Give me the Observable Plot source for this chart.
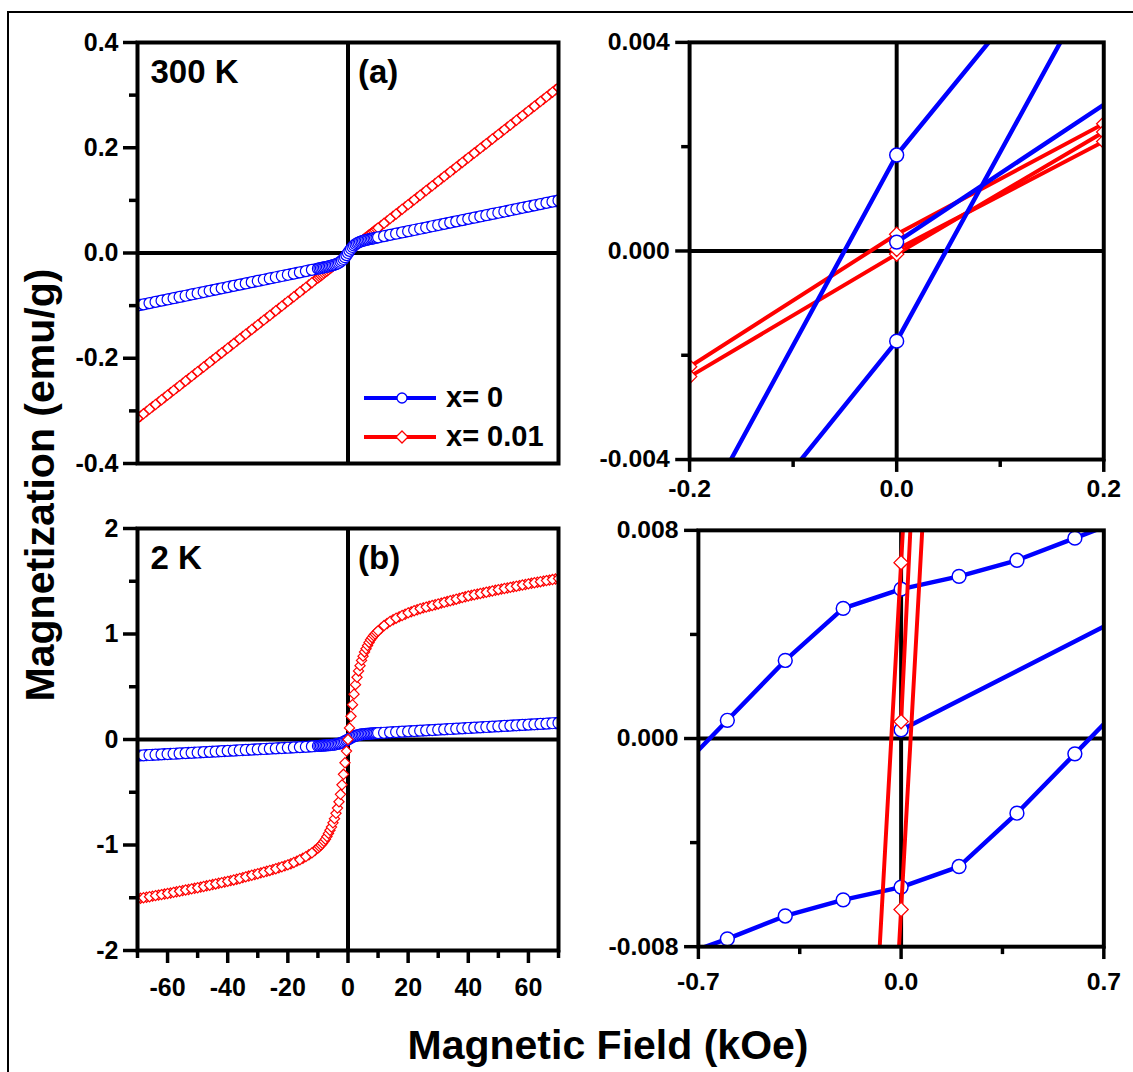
<!DOCTYPE html>
<html>
<head>
<meta charset="utf-8">
<script src="https://cdn.jsdelivr.net/npm/d3@7"></script>
<script src="https://cdn.jsdelivr.net/npm/@observablehq/plot@0.6"></script>
<style>
  html, body { margin: 0; padding: 0; background: #fff; }
  body { width: 1133px; height: 1072px; overflow: hidden; position: relative;
         font-family: "Liberation Sans", Arial, Helvetica, sans-serif; }
  #border { position: absolute; left: 7px; top: 11px; width: 1160px; height: 1100px; border: 2px solid #000; }
  .panel { position: absolute; }
  .panel svg { overflow: visible; }
  .title { position: absolute; font-weight: bold; font-size: 41px; color: #000; white-space: nowrap; }
  #ytitle { left: 40px; top: 485px; transform: translate(-50%, -50%) rotate(-90deg); }
  #xtitle { left: 608px; top: 1045px; transform: translate(-50%, -50%); }
  #legend { position: absolute; left: 362px; top: 378px; }
  .leg-row { display: flex; align-items: center; height: 39px; }
  .leg-row span { font-weight: bold; font-size: 29px; margin-left: 8px; }
</style>
</head>
<body>
<div id="border"></div>
<div id="pa" class="panel"></div>
<div id="pb" class="panel"></div>
<div id="pc" class="panel"></div>
<div id="pd" class="panel"></div>
<div id="legend"></div>
<div id="ytitle" class="title">Magnetization (emu/g)</div>
<div id="xtitle" class="title">Magnetic Field (kOe)</div>
<script>
// ---------- Full-range loops (panels a and b), field in kOe ----------
// Sweep up: -70 -> +70 kOe (fine steps around zero field)
const H_UP = [-70,-68,-66,-64,-62,-60,-58,-56,-54,-52,-50,-48,-46,-44,-42,-40,-38,-36,-34,-32,-30,-28,-26,-24,-22,-20,-18,-16,-14,-12,
  -10,-9.5,-9,-8.5,-8,-7.5,-7,-6.5,-6,-5.5,-5,-4.5,-4,-3.5,-3,-2.5,-2,-1.5,-1,-0.5,0,0.5,1,1.5,2,2.5,3,3.5,4,4.5,5,5.5,6,6.5,7,7.5,8,8.5,9,9.5,10,
  12,14,16,18,20,22,24,26,28,30,32,34,36,38,40,42,44,46,48,50,52,54,56,58,60,62,64,66,68,70];
// Sweep down: +70 -> -70 kOe, high-field points only
const H_DOWN = [69,67,65,63,61,59,57,55,53,51,49,47,45,43,41,39,37,35,33,31,29,27,25,23,21,19,17,15,13,11,
  -11,-13,-15,-17,-19,-21,-23,-25,-27,-29,-31,-33,-35,-37,-39,-41,-43,-45,-47,-49,-51,-53,-55,-57,-59,-61,-63,-65,-67,-69];

// 300 K, x = 0
const M_300K_X0_UP = [-0.0999,-0.0976,-0.0952,-0.0929,-0.0905,-0.0882,-0.0859,-0.0835,-0.0812,-0.0788,-0.0765,-0.0742,-0.0718,-0.0695,-0.0671,-0.0648,-0.0625,-0.0601,-0.0578,-0.0554,-0.0531,-0.0508,-0.0484,-0.0461,-0.0437,-0.0414,-0.0391,-0.0367,-0.0344,-0.0320,
  -0.0297,-0.0291,-0.0285,-0.0279,-0.0273,-0.0267,-0.0261,-0.0254,-0.0247,-0.0240,-0.0232,-0.0223,-0.0213,-0.0200,-0.0185,-0.0166,-0.0143,-0.0114,-0.0080,-0.0041,0,
  0.0041,0.0080,0.0114,0.0143,0.0166,0.0185,0.0200,0.0213,0.0223,0.0232,0.0240,0.0247,0.0254,0.0261,0.0267,0.0273,0.0279,0.0285,0.0291,0.0297,
  0.0320,0.0344,0.0367,0.0391,0.0414,0.0437,0.0461,0.0484,0.0508,0.0531,0.0554,0.0578,0.0601,0.0625,0.0648,0.0671,0.0695,0.0718,0.0742,0.0765,0.0788,0.0812,0.0835,0.0859,0.0882,0.0905,0.0929,0.0952,0.0976,0.0999];
const M_300K_X0_DOWN = [0.0987,0.0964,0.0941,0.0917,0.0894,0.0870,0.0847,0.0824,0.0800,0.0777,0.0753,0.0730,0.0707,0.0683,0.0660,0.0636,0.0613,0.0590,0.0566,0.0543,0.0519,0.0496,0.0473,0.0449,0.0426,0.0402,0.0379,0.0356,0.0332,0.0309,
  -0.0309,-0.0332,-0.0356,-0.0379,-0.0402,-0.0426,-0.0449,-0.0473,-0.0496,-0.0519,-0.0543,-0.0566,-0.0590,-0.0613,-0.0636,-0.0660,-0.0683,-0.0707,-0.0730,-0.0753,-0.0777,-0.0800,-0.0824,-0.0847,-0.0870,-0.0894,-0.0917,-0.0941,-0.0964,-0.0987];

// 300 K, x = 0.01
const M_300K_X001_UP = [-0.3145,-0.3056,-0.2967,-0.2878,-0.2789,-0.2700,-0.2611,-0.2522,-0.2433,-0.2344,-0.2255,-0.2166,-0.2077,-0.1988,-0.1899,-0.1810,-0.1721,-0.1632,-0.1543,-0.1454,-0.1365,-0.1276,-0.1187,-0.1098,-0.1009,-0.0920,-0.0831,-0.0742,-0.0653,-0.0564,
  -0.0475,-0.0453,-0.0431,-0.0408,-0.0386,-0.0364,-0.0342,-0.0319,-0.0297,-0.0275,-0.0252,-0.0229,-0.0207,-0.0184,-0.0161,-0.0136,-0.0112,-0.0086,-0.0058,-0.0030,0,
  0.0030,0.0058,0.0086,0.0112,0.0136,0.0161,0.0184,0.0207,0.0229,0.0252,0.0275,0.0297,0.0319,0.0342,0.0364,0.0386,0.0408,0.0431,0.0453,0.0475,
  0.0564,0.0653,0.0742,0.0831,0.0920,0.1009,0.1098,0.1187,0.1276,0.1365,0.1454,0.1543,0.1632,0.1721,0.1810,0.1899,0.1988,0.2077,0.2166,0.2255,0.2344,0.2433,0.2522,0.2611,0.2700,0.2789,0.2878,0.2967,0.3056,0.3145];
const M_300K_X001_DOWN = [0.3101,0.3012,0.2923,0.2834,0.2745,0.2656,0.2567,0.2478,0.2389,0.2300,0.2211,0.2122,0.2033,0.1944,0.1855,0.1766,0.1677,0.1588,0.1499,0.1410,0.1321,0.1232,0.1143,0.1054,0.0965,0.0876,0.0787,0.0698,0.0609,0.0520,
  -0.0520,-0.0609,-0.0698,-0.0787,-0.0876,-0.0965,-0.1054,-0.1143,-0.1232,-0.1321,-0.1410,-0.1499,-0.1588,-0.1677,-0.1766,-0.1855,-0.1944,-0.2033,-0.2122,-0.2211,-0.2300,-0.2389,-0.2478,-0.2567,-0.2656,-0.2745,-0.2834,-0.2923,-0.3012,-0.3101];

// 2 K, x = 0
const M_2K_X0_UP = [-0.1530,-0.1500,-0.1470,-0.1440,-0.1410,-0.1380,-0.1350,-0.1320,-0.1290,-0.1260,-0.1230,-0.1200,-0.1170,-0.1140,-0.1110,-0.1080,-0.1050,-0.1020,-0.0990,-0.0960,-0.0930,-0.0900,-0.0870,-0.0840,-0.0810,-0.0780,-0.0750,-0.0720,-0.0690,-0.0655,
  -0.0615,-0.0605,-0.0595,-0.0585,-0.0575,-0.0564,-0.0554,-0.0542,-0.0530,-0.0516,-0.0499,-0.0479,-0.0456,-0.0427,-0.0391,-0.0347,-0.0294,-0.0232,-0.0161,-0.0082,0,
  0.0082,0.0161,0.0232,0.0294,0.0347,0.0391,0.0427,0.0456,0.0479,0.0499,0.0516,0.0530,0.0542,0.0554,0.0564,0.0574,0.0583,0.0592,0.0600,0.0609,
  0.0642,0.0674,0.0706,0.0738,0.0770,0.0802,0.0834,0.0866,0.0898,0.0930,0.0962,0.0994,0.1026,0.1058,0.1090,0.1122,0.1154,0.1186,0.1218,0.1250,0.1282,0.1314,0.1346,0.1378,0.1410,0.1442,0.1474,0.1506,0.1538,0.1570];
const M_2K_X0_DOWN = [0.1554,0.1522,0.1490,0.1458,0.1426,0.1394,0.1362,0.1330,0.1298,0.1266,0.1234,0.1202,0.1170,0.1138,0.1106,0.1074,0.1042,0.1010,0.0978,0.0946,0.0914,0.0882,0.0850,0.0818,0.0786,0.0754,0.0722,0.0690,0.0658,0.0626,
  -0.0635,-0.0673,-0.0705,-0.0735,-0.0765,-0.0795,-0.0825,-0.0855,-0.0885,-0.0915,-0.0945,-0.0975,-0.1005,-0.1035,-0.1065,-0.1095,-0.1125,-0.1155,-0.1185,-0.1215,-0.1245,-0.1275,-0.1305,-0.1335,-0.1365,-0.1395,-0.1425,-0.1455,-0.1485,-0.1515];

// 2 K, x = 0.01
const M_2K_X001_UP = [-1.510,-1.500,-1.490,-1.480,-1.470,-1.460,-1.449,-1.438,-1.427,-1.416,-1.405,-1.393,-1.381,-1.369,-1.357,-1.345,-1.331,-1.317,-1.302,-1.287,-1.272,-1.257,-1.241,-1.225,-1.207,-1.188,-1.166,-1.140,-1.110,-1.075,
  -1.030,-1.015,-1.000,-0.985,-0.965,-0.945,-0.920,-0.890,-0.860,-0.830,-0.790,-0.750,-0.700,-0.650,-0.590,-0.520,-0.430,-0.330,-0.220,-0.110,0,
  0.110,0.220,0.330,0.430,0.520,0.590,0.650,0.700,0.750,0.790,0.830,0.860,0.890,0.920,0.945,0.965,0.985,1.000,1.015,1.030,
  1.080,1.120,1.150,1.175,1.200,1.220,1.240,1.255,1.270,1.285,1.300,1.315,1.330,1.345,1.360,1.372,1.384,1.396,1.408,1.420,1.431,1.442,1.453,1.464,1.475,1.486,1.496,1.506,1.516,1.526];
const M_2K_X001_DOWN = [1.521,1.511,1.501,1.491,1.4805,1.4695,1.4585,1.4475,1.4365,1.4255,1.414,1.402,1.390,1.378,1.366,1.3525,1.3375,1.3225,1.3075,1.2925,1.2775,1.2625,1.2475,1.230,1.210,1.1875,1.1625,1.135,1.100,1.055,
  -1.052,-1.092,-1.125,-1.153,-1.177,-1.1975,-1.216,-1.233,-1.249,-1.2645,-1.2795,-1.2945,-1.3095,-1.324,-1.338,-1.351,-1.363,-1.375,-1.387,-1.399,-1.4105,-1.4215,-1.4325,-1.4435,-1.4545,-1.465,-1.475,-1.485,-1.495,-1.505];

// ---------- Low-field detail at 300 K (top right) ----------
const C_X0_DOWN_H = [0.2, 0, -0.2],  C_X0_DOWN_M = [0.0067, 0.00184, -0.00546];
const C_X0_UP_H   = [-0.2, 0, 0.2],  C_X0_UP_M   = [-0.00665, -0.00173, 0.00552];
const C_X0_INIT_H = [0, 0.3],        C_X0_INIT_M = [0.00017, 0.00412];
const C_X001_DOWN_H = [0.2, 0, -0.2], C_X001_DOWN_M = [0.00244, 0.00032, -0.00222];
const C_X001_UP_H   = [-0.2, 0, 0.2], C_X001_UP_M   = [-0.00241, -0.00006, 0.00228];
const C_X001_INIT_H = [0, 0.2],       C_X001_INIT_M = [0.00003, 0.0021];

// ---------- Low-field detail at 2 K (bottom right) ----------
const D_X0_DOWN_H = [0.8, 0.6, 0.4, 0.2, 0, -0.2, -0.4, -0.6, -0.8];
const D_X0_DOWN_M = [0.00856, 0.0077, 0.00685, 0.00623, 0.00574, 0.0050, 0.0030, 0.0007, -0.0016];
const D_X0_UP_H   = [-0.8, -0.6, -0.4, -0.2, 0, 0.2, 0.4, 0.6, 0.8];
const D_X0_UP_M   = [-0.0085, -0.0077, -0.00682, -0.0062, -0.00571, -0.00492, -0.00287, -0.00059, 0.0017];
const D_X0_INIT_H = [0, 1.0], D_X0_INIT_M = [0.00033, 0.0060];
const D_X001_DOWN_H = [0.2, 0, -0.2], D_X001_DOWN_M = [0.0468, 0.00676, -0.0332];
const D_X001_UP_H   = [-0.2, 0, 0.2], D_X001_UP_M   = [-0.0466, -0.00657, 0.0334];
const D_X001_INIT_H = [0, 0.2],       D_X001_INIT_M = [0.00065, 0.0467];

// ---------- Axis ticks ----------
const A_Y_MAJOR = [-0.4, -0.2, 0, 0.2, 0.4], A_Y_MINOR = [-0.3, -0.1, 0.1, 0.3];
const B_Y_MAJOR = [-2, -1, 0, 1, 2],         B_Y_MINOR = [-1.5, -0.5, 0.5, 1.5];
const B_X_MAJOR = [-60, -40, -20, 0, 20, 40, 60], B_X_MINOR = [-70, -50, -30, -10, 10, 30, 50, 70];
const C_Y_MAJOR = [-0.004, 0, 0.004], C_Y_MINOR = [-0.002, 0.002];
const C_X_MAJOR = [-0.2, 0, 0.2],     C_X_MINOR = [-0.1, 0.1];
const D_Y_MAJOR = [-0.008, 0, 0.008], D_Y_MINOR = [-0.004, 0.004];
const D_X_MAJOR = [-0.7, 0, 0.7],     D_X_MINOR = [-0.35, 0.35];

const LEGEND = [{label: "x= 0", color: "#0000ff", symbol: "circle"}, {label: "x= 0.01", color: "#ff0000", symbol: "diamond"}];

const BLUE = "#0000ff", RED = "#ff0000";
const FONT = '"Liberation Sans", Arial, Helvetica, sans-serif';
const TICK_FONT = 25;
const LINE_W = 4;

function table(H, M, branch) { return H.map((h, i) => ({H: h, M: M[i], branch})); }

function axisMarks({yMajor, yMinor, yFmt, yPad, xMajor, xMinor, xFmt, xPad}) {
  const common = {strokeWidth: 3.5, label: null, fontSize: TICK_FONT, fontWeight: "bold", fill: "#000", stroke: "#000"};
  const marks = [
    Plot.axisY(yMajor, {...common, tickSize: 14, tickPadding: yPad, tickFormat: yFmt}),
    Plot.axisY(yMinor, {...common, tickSize: 8, tickFormat: () => ""})
  ];
  if (xMajor) {
    marks.push(
      Plot.axisX(xMajor, {...common, tickSize: 13, tickPadding: xPad, tickFormat: xFmt}),
      Plot.axisX(xMinor, {...common, tickSize: 8, tickFormat: () => ""})
    );
  }
  return marks;
}

function panel({id, frameL, frameT, frameW, frameH, m, xDomain, yDomain, data, axes, labels}) {
  const [mT, mR, mB, mL] = m;
  const plot = Plot.plot({
    width: mL + frameW + mR,
    height: mT + frameH + mB,
    marginTop: mT, marginRight: mR, marginBottom: mB, marginLeft: mL,
    x: {domain: xDomain, axis: null},
    y: {domain: yDomain, axis: null},
    style: {fontFamily: FONT, fontSize: TICK_FONT + "px", fontWeight: "bold", color: "#000", background: "transparent", overflow: "visible"},
    marks: [
      Plot.ruleX([0], {stroke: "#000", strokeWidth: LINE_W}),
      Plot.ruleY([0], {stroke: "#000", strokeWidth: LINE_W}),
      ...data,
      Plot.frame({stroke: "#000", strokeWidth: LINE_W}),
      ...axisMarks(axes),
      ...(labels || [])
    ]
  });
  const el = document.getElementById(id);
  el.style.left = (frameL - mL) + "px";
  el.style.top = (frameT - mT) + "px";
  el.appendChild(plot);
}

function cornerLabels(left, right) {
  return [
    Plot.text([left], {frameAnchor: "top-left", dx: 13, dy: 30, textAnchor: "start", lineAnchor: "middle", fontSize: 33, fontWeight: "bold", fill: "#000"}),
    Plot.text([right], {frameAnchor: "top", dx: 10, dy: 30, textAnchor: "start", lineAnchor: "middle", fontSize: 33, fontWeight: "bold", fill: "#000"})
  ];
}

function loopDots(rows, color, symbol, r, sw) {
  return Plot.dot(rows, {x: "H", y: "M", r, symbol, stroke: color, fill: "white", strokeWidth: sw, clip: true});
}

// (a) 300 K
panel({
  id: "pa", frameL: 137, frameT: 42, frameW: 421, frameH: 421, m: [12, 12, 12, 90],
  xDomain: [-70, 70], yDomain: [-0.4, 0.4],
  data: [
    loopDots(table(H_DOWN, M_300K_X001_DOWN, "down"), RED, "diamond2", 4.6, 1.2),
    loopDots(table(H_UP, M_300K_X001_UP, "up"), RED, "diamond2", 4.6, 1.2),
    loopDots(table(H_DOWN, M_300K_X0_DOWN, "down"), BLUE, "circle", 5.5, 1.2),
    loopDots(table(H_UP, M_300K_X0_UP, "up"), BLUE, "circle", 5.5, 1.2)
  ],
  axes: {yMajor: A_Y_MAJOR, yMinor: A_Y_MINOR, yFmt: d => d.toFixed(1), yPad: 5},
  labels: cornerLabels("300 K", "(a)")
});

// (b) 2 K
panel({
  id: "pb", frameL: 137, frameT: 528, frameW: 421, frameH: 422, m: [12, 12, 70, 90],
  xDomain: [-70, 70], yDomain: [-2, 2],
  data: [
    loopDots(table(H_DOWN, M_2K_X0_DOWN, "down"), BLUE, "circle", 5.5, 1.2),
    loopDots(table(H_UP, M_2K_X0_UP, "up"), BLUE, "circle", 5.5, 1.2),
    loopDots(table(H_DOWN, M_2K_X001_DOWN, "down"), RED, "diamond2", 4.6, 1.2),
    loopDots(table(H_UP, M_2K_X001_UP, "up"), RED, "diamond2", 4.6, 1.2)
  ],
  axes: {yMajor: B_Y_MAJOR, yMinor: B_Y_MINOR, yFmt: d => String(d), yPad: 5,
         xMajor: B_X_MAJOR, xMinor: B_X_MINOR, xFmt: d => String(d), xPad: 15},
  labels: cornerLabels("2 K", "(b)")
});

// (c) 300 K, low field
const cBlue = [...table(C_X0_DOWN_H, C_X0_DOWN_M, "down"), ...table(C_X0_UP_H, C_X0_UP_M, "up"), ...table(C_X0_INIT_H, C_X0_INIT_M, "init")];
const cRed = [...table(C_X001_DOWN_H, C_X001_DOWN_M, "down"), ...table(C_X001_UP_H, C_X001_UP_M, "up"), ...table(C_X001_INIT_H, C_X001_INIT_M, "init")];
panel({
  id: "pc", frameL: 690, frameT: 42, frameW: 418, frameH: 421, m: [12, 30, 50, 100],
  xDomain: [-0.2, 0.2], yDomain: [-0.004, 0.004],
  data: [
    Plot.line(cRed, {x: "H", y: "M", z: "branch", stroke: RED, strokeWidth: 4, clip: true}),
    loopDots(cRed, RED, "diamond2", 6.5, 1.3),
    Plot.line(cBlue, {x: "H", y: "M", z: "branch", stroke: BLUE, strokeWidth: 4.5, clip: true}),
    loopDots(cBlue, BLUE, "circle", 7, 1.5)
  ],
  axes: {yMajor: C_Y_MAJOR, yMinor: C_Y_MINOR, yFmt: d => d.toFixed(3), yPad: 6,
         xMajor: C_X_MAJOR, xMinor: C_X_MINOR, xFmt: d => d.toFixed(1), xPad: 7}
});

// (d) 2 K, low field
const dBlue = [...table(D_X0_DOWN_H, D_X0_DOWN_M, "down"), ...table(D_X0_UP_H, D_X0_UP_M, "up"), ...table(D_X0_INIT_H, D_X0_INIT_M, "init")];
const dRed = [...table(D_X001_DOWN_H, D_X001_DOWN_M, "down"), ...table(D_X001_UP_H, D_X001_UP_M, "up"), ...table(D_X001_INIT_H, D_X001_INIT_M, "init")];
panel({
  id: "pd", frameL: 699, frameT: 530, frameW: 410, frameH: 421, m: [12, 30, 60, 100],
  xDomain: [-0.7, 0.7], yDomain: [-0.008, 0.008],
  data: [
    Plot.line(dBlue, {x: "H", y: "M", z: "branch", stroke: BLUE, strokeWidth: 4.5, clip: true}),
    loopDots(dBlue, BLUE, "circle", 7, 1.5),
    Plot.line(dRed, {x: "H", y: "M", z: "branch", stroke: RED, strokeWidth: 4, clip: true}),
    loopDots(dRed, RED, "diamond2", 6.5, 1.3)
  ],
  axes: {yMajor: D_Y_MAJOR, yMinor: D_Y_MINOR, yFmt: d => d.toFixed(3), yPad: 6,
         xMajor: D_X_MAJOR, xMinor: D_X_MINOR, xFmt: d => d.toFixed(1), xPad: 13}
});

// Legend for panel (a): line swatch with its symbol, then the label
const legend = d3.select("#legend");
for (const item of LEGEND) {
  const row = legend.append("div").attr("class", "leg-row");
  const svg = row.append("svg").attr("width", 76).attr("height", 20);
  svg.append("line").attr("x1", 2).attr("x2", 74).attr("y1", 10).attr("y2", 10)
    .attr("stroke", item.color).attr("stroke-width", 4);
  if (item.symbol === "circle") {
    svg.append("circle").attr("cx", 40).attr("cy", 10).attr("r", 5)
      .attr("fill", "white").attr("stroke", item.color).attr("stroke-width", 1.3);
  } else {
    svg.append("path").attr("d", "M40,4L46,10L40,16L34,10Z")
      .attr("fill", "white").attr("stroke", item.color).attr("stroke-width", 1.3);
  }
  row.append("span").text(item.label);
}
</script>
</body>
</html>
